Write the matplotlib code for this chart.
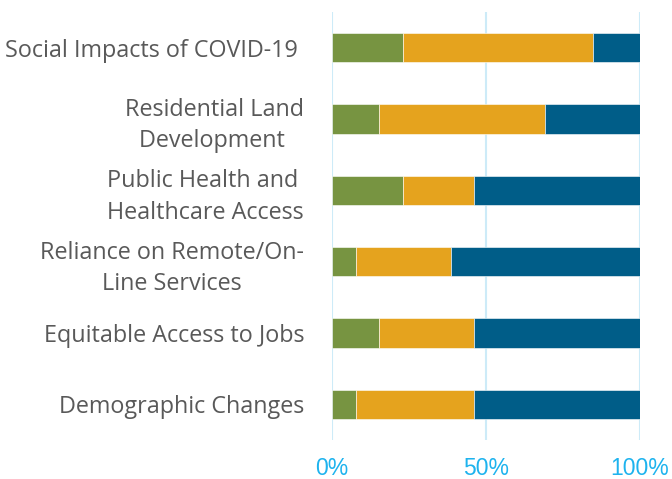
import matplotlib
matplotlib.use("Agg")
import matplotlib.pyplot as plt

categories = ["Social Impacts of COVID-19 ", "Residential Land\nDevelopment ",
              "Public Health and \nHealthcare Access", "Reliance on Remote/On-\nLine Services",
              "Equitable Access to Jobs", "Demographic Changes"]
green_vals = [23.1, 15.4, 23.1, 7.7, 15.4, 7.7]
orange_vals = [61.5, 53.8, 23.1, 30.8, 30.8, 38.5]
blue_vals = [15.4, 30.8, 53.8, 61.5, 53.8, 53.8]
tick_vals = [0, 50, 100]
tick_labels = ["0%", "50%", "100%"]

colors = ["#779441", "#E5A31E", "#005D88"]

fig = plt.figure(figsize=(6.72, 4.79), dpi=100)
ax = fig.add_axes([332/672, 1-440/479, (640-332)/672, (440-12)/479])

y = list(range(len(categories)))
left = [0]*len(categories)
for vals, c in zip([green_vals, orange_vals, blue_vals], colors):
    ax.barh(y, vals, left=left, height=0.41, color=c, edgecolor="white", linewidth=0.4, zorder=3)
    left = [l+v for l, v in zip(left, vals)]

ax.set_xlim(0, 100)
ax.set_ylim(len(categories)-0.5, -0.5)
ax.set_xticks(tick_vals)
ax.set_xticklabels(tick_labels, fontsize=16.5, color="#1EB3EE", family="Liberation Sans")
ax.set_yticks(y)
ax.set_yticklabels(categories, fontsize=16.8, color="#595959", family="Open Sans",
                   multialignment="center", linespacing=1.4)
ax.tick_params(axis="both", length=0)
ax.tick_params(axis="y", pad=20)
ax.tick_params(axis="x", pad=12)
for s in ax.spines.values():
    s.set_visible(False)
ax.grid(axis="x", color="#CDEBF8", linewidth=1.5, zorder=0)
ax.set_axisbelow(True)

fig.savefig("out.png", dpi=100)
